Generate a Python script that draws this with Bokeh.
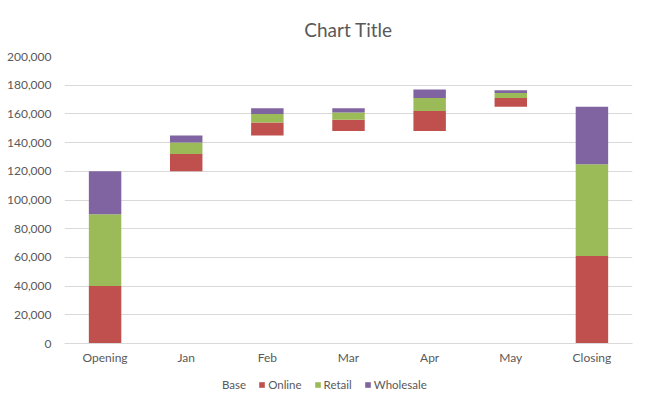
from bokeh.plotting import figure
from bokeh.layouts import column
from bokeh.models import ColumnDataSource, Legend, LegendItem, NumeralTickFormatter, Range1d
from bokeh.embed import file_html
from bokeh.resources import INLINE

# waterfall data (values in units)
months = ["Opening", "Jan", "Feb", "Mar", "Apr", "May", "Closing"]
base = [0, 120000, 145000, 148000, 148000, 165000, 0]
online = [40000, 12000, 9000, 8000, 14000, 6000, 61000]
retail = [50000, 8000, 6000, 5000, 9000, 3500, 64000]
wholesale = [30000, 5000, 4000, 3000, 6000, 2000, 40000]

series = ["Base", "Online", "Retail", "Wholesale"]
colors = ["#FFFFFF", "#C0504D", "#9BBB59", "#8064A2"]
alphas = [0, 1, 1, 1]

source = ColumnDataSource(data=dict(months=months, Base=base, Online=online,
                                    Retail=retail, Wholesale=wholesale))

FONT = "Lato"
GREY = "#595959"

p = figure(x_range=months, y_range=Range1d(0, 200000), width=648, height=372,
           title="Chart Title", output_backend="svg", toolbar_location=None,
           min_border_left=64, min_border_right=16, min_border_top=53, min_border_bottom=29)

p.vbar_stack(series, x="months", width=0.4, source=source,
             fill_color=colors, fill_alpha=alphas, line_alpha=0)

p.title.align = "center"
p.title.text_font = FONT
p.title.text_font_size = "19px"
p.title.text_font_style = "normal"
p.title.text_color = GREY
p.title.standoff = 31

p.outline_line_color = None
p.xgrid.grid_line_color = None
p.ygrid.grid_line_color = "#D9D9D9"
p.ygrid.grid_line_width = 1

p.yaxis.formatter = NumeralTickFormatter(format="0,0")
p.yaxis.ticker.desired_num_ticks = 11
p.yaxis.axis_line_color = None
p.yaxis.major_tick_line_color = None
p.yaxis.minor_tick_line_color = None
p.yaxis.major_tick_out = 0
p.yaxis.major_label_standoff = 9

p.xaxis.axis_line_color = "#D9D9D9"
p.xaxis.major_tick_line_color = None
p.xaxis.minor_tick_line_color = None
p.xaxis.major_tick_out = 0
p.xaxis.major_label_standoff = 6

for ax in (p.xaxis, p.yaxis):
    ax.major_label_text_font = FONT
    ax.major_label_text_font_size = "12px"
    ax.major_label_text_color = GREY

# legend strip under the chart (a side-panel legend collapses the frame here);
# the swatch glyphs hold one zero-height bar so the legend can draw them
leg = figure(width=648, height=24, output_backend="svg", toolbar_location=None,
             min_border=0, x_range=(0, 1), y_range=(0, 1))
leg.axis.visible = False
leg.grid.visible = False
leg.outline_line_color = None
swatches = [leg.vbar(x=[0.5], top=[0], width=0.1, fill_color=c, fill_alpha=a, line_alpha=0)
            for c, a in zip(colors, alphas)]

legend = Legend(items=[LegendItem(label=s, renderers=[r]) for s, r in zip(series, swatches)],
                orientation="horizontal", location=(148, 5),
                border_line_color=None, background_fill_alpha=0,
                glyph_width=7, glyph_height=7, label_standoff=3, spacing=12,
                padding=0, margin=0, label_height=14,
                label_text_font=FONT, label_text_font_size="11.5px", label_text_color=GREY)
leg.add_layout(legend, "center")

layout = column(p, leg, spacing=0)

open("out.html", "w").write(file_html(layout, INLINE))
